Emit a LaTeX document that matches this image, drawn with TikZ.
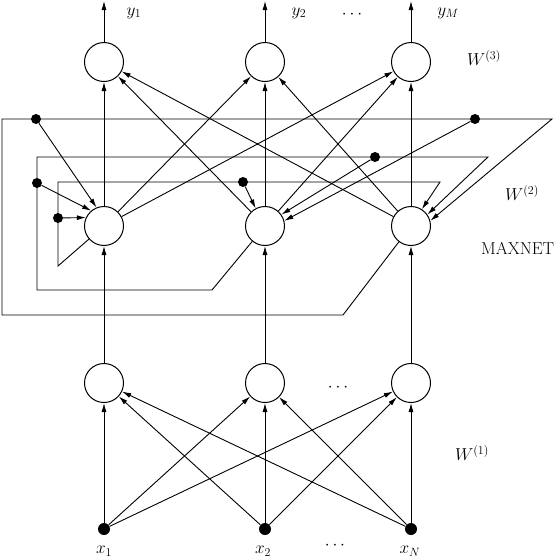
\documentclass[tikz,border=0pt]{standalone}
\usetikzlibrary{arrows.meta}
\begin{document}
\begin{tikzpicture}[x=1pt,y=-1pt,
  neuron/.style={draw,circle,minimum size=39pt,inner sep=0pt,line width=1pt},
  loopdot/.style={fill,circle,minimum size=10pt,inner sep=0pt},
  indot/.style={fill,circle,minimum size=12pt,inner sep=0pt},
  conn/.style={line width=0.9pt,-{Latex[length=9pt,width=5pt]}},
  lbl/.style={font=\fontsize{17.28}{20}\selectfont,inner sep=0pt}]
\useasboundingbox (0,0) rectangle (558,560);

% neurons
\node[neuron] (t1) at (104,62) {};
\node[neuron] (t2) at (265,62) {};
\node[neuron] (t3) at (411,62) {};
\node[neuron] (m1) at (104,226) {};
\node[neuron] (m2) at (265,226) {};
\node[neuron] (m3) at (411,226) {};
\node[neuron] (b1) at (104,383) {};
\node[neuron] (b2) at (265,383) {};
\node[neuron] (b3) at (411,383) {};
% inputs
\node[indot] (x1) at (104,529) {};
\node[indot] (x2) at (265,529) {};
\node[indot] (x3) at (411,529) {};
% outputs
\coordinate (o1) at (104,1);
\coordinate (o2) at (265,1);
\coordinate (o3) at (411,1);

\foreach \i in {1,2,3} {
  \draw[conn] (t\i) -- (o\i);
  \draw[conn] (b\i) -- (m\i);
  \foreach \j in {1,2,3} {
    \draw[conn] (m\i) -- (t\j);
    \draw[conn] (x\i) -- (b\j);
  }
}

% inner loop (from m1)
\coordinate (ia) at (58,266);
\coordinate (ib) at (58,182);
\coordinate (ic) at (440,182);
\draw[conn] (m1) -- (ia) -- (ib) -- (ic) -- (m3.57);
\node[loopdot] (d11) at (58,218) {};
\node[loopdot] (d12) at (243,182) {};
\draw[conn] (d11) -- (m1.155);
\draw[conn] (d12) -- (m2.118);

% middle loop (from m2)
\coordinate (ma) at (212,290);
\coordinate (mb) at (37,290);
\coordinate (mc) at (37,157);
\coordinate (md) at (488,157);
\draw[conn] (m2) -- (ma) -- (mb) -- (mc) -- (md) -- (m3.35);
\node[loopdot] (d21) at (37,183) {};
\node[loopdot] (d22) at (375,157) {};
\draw[conn] (d21) -- (m1.130);
\draw[conn] (d22) -- (m2.35);

% outer loop (from m3)
\coordinate (oa) at (343,315);
\coordinate (ob) at (2,315);
\coordinate (oc) at (2,119);
\coordinate (od) at (552,119);
\draw[conn] (m3) -- (oa) -- (ob) -- (oc) -- (od) -- (m3.15);
\node[loopdot] (d31) at (36,119) {};
\node[loopdot] (d32) at (475,119) {};
\draw[conn] (d31) -- (m1.112);
\draw[conn] (d32) -- (m2.15);

% labels
\node[lbl] (ly1) at (134,13) {$y_1$};
\node[lbl] (ly2) at (299,13) {$y_2$};
\node[lbl] (lyd) at (352,15) {$\cdots$};
\node[lbl] (lyM) at (448,13) {$y_M$};
\node[lbl] (lx1) at (104,551) {$x_1$};
\node[lbl] (lx2) at (263,551) {$x_2$};
\node[lbl] (lxd) at (335,546) {$\cdots$};
\node[lbl] (lxN) at (410,551) {$x_N$};
\node[lbl] (lbd) at (338,388) {$\cdots$};
\node[lbl] (w3) at (484,58) {$W^{(3)}$};
\node[lbl] (w2) at (522,193) {$W^{(2)}$};
\node[lbl] (w1) at (472,453) {$W^{(1)}$};
\node[lbl,anchor=west] (mx) at (481,248) {MAXNET};
\end{tikzpicture}
\end{document}
